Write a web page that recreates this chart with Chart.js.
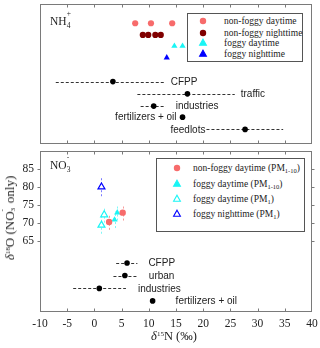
<!DOCTYPE html>
<html>
<head>
<meta charset="utf-8">
<script src="https://cdn.jsdelivr.net/npm/chart.js@4/dist/chart.umd.min.js"></script>
<style>
    body { margin: 0; background: #fff; }
    #wrap { position: relative; width: 320px; height: 348px; overflow: hidden; font-family: 'Liberation Serif', 'Times New Roman', serif; color: #222; }
    canvas { position: absolute; left: 0; }
    #topChart { top: 0; }
    #botChart { top: 146px; }
    .legend { position: absolute; background: #fff; border: 1px solid #555; z-index: 2; }
    .legend .row { position: absolute; left: 0; height: 12px; line-height: 12px; font-size: 9.5px; white-space: nowrap; }
    .legend svg { position: absolute; top: 0; }
    .legend span.txt { position: absolute; }
    sub { font-size: 6.5px; vertical-align: -2px; line-height: 0; }
    sup { font-size: 7px; vertical-align: 4px; line-height: 0; }
    .stack { display: inline-block; position: relative; width: 6px; height: 10px; }
    .stack .up { position: absolute; left: 0; top: -6px; font-size: 7.5px; }
    .stack .dn { position: absolute; left: 0; top: 6px; font-size: 7.5px; }
    .panel-label { position: absolute; font-size: 11.5px; z-index: 2; }
    .ytitle { position: absolute; left: 10px; top: 218px; transform: translate(-50%, -50%) rotate(-90deg); font-size: 13px; white-space: nowrap; }
    .xtitle { position: absolute; left: 174px; top: 336px; transform: translate(-50%, -50%); font-size: 12.5px; white-space: nowrap; }
</style>
</head>
<body>
<div id="wrap">
    <canvas id="topChart" width="320" height="148"></canvas>
    <canvas id="botChart" width="320" height="202"></canvas>

    <div class="panel-label" style="left:50px; top:15px;">NH<span class="stack"><span class="up">+</span><span class="dn">4</span></span></div>
    <div class="panel-label" style="left:50px; top:159px;">NO<span class="stack"><span class="up">-</span><span class="dn">3</span></span></div>

    <div class="legend" id="legTop" style="left:187px; top:13px; width:114px; height:47px;"></div>
    <div class="legend" id="legBot" style="left:156px; top:158px; width:147px; height:72px;"></div>

    <div class="ytitle"><i>δ</i><sup>18</sup>O (NO<span class="stack" style="width:5px"><span class="up" style="font-size:7px">-</span><span class="dn" style="font-size:7px; top:5px">3</span></span> only)</div>
    <div class="xtitle"><i>δ</i><sup>15</sup>N (‰)</div>
</div>
<script>
// x axis: delta15N (permil)
const xMin = -10, xMax = 40, xStep = 5;

// ---- NH4+ panel (rows on an arbitrary vertical scale) ----
const nh4NonFoggyDayX = [7.5, 10.4, 14.3];
const nh4NonFoggyDayY = [10.35, 10.35, 10.35];
const nh4NonFoggyNightX = [8.9, 9.9, 11.2, 12.2];
const nh4NonFoggyNightY = [9.35, 9.35, 9.35, 9.35];
const nh4FoggyDayX = [14.7, 16.2];
const nh4FoggyDayY = [8.4, 8.4];
const nh4FoggyNightX = [13.3];
const nh4FoggyNightY = [7.4];

const nh4Sources = ['CFPP', 'traffic', 'industries', 'fertilizers + oil', 'feedlots'];
const nh4SourceX = [3.4, 17.1, 10.9, 16.2, 27.7];
const nh4SourceY = [5.35, 4.3, 3.25, 2.3, 1.25];
const nh4SourceLo = [-7.1, 7.9, 8.5, null, 20.6];
const nh4SourceHi = [13.1, 25.8, 13.1, null, 34.7];

// ---- NO3- panel: delta18O vs delta15N ----
const no3Ticks = [65, 70, 75, 80, 85];
const no3NonFoggyDayX = [2.7, 5.2];
const no3NonFoggyDayY = [70.2, 72.8];
const no3NonFoggyDayErr = [2.2, 2.2];
const no3FoggyDayPM10X = [3.7, 4.2];
const no3FoggyDayPM10Y = [70.8, 72.8];
const no3FoggyDayPM10Err = [2.3, 2.2];
const no3FoggyDayPM1X = [1.3, 1.8];
const no3FoggyDayPM1Y = [69.3, 72.2];
const no3FoggyDayPM1Err = [2.4, 2.2];
const no3FoggyNightPM1X = [1.3];
const no3FoggyNightPM1Y = [80.0];
const no3FoggyNightPM1Err = [2.6];

const no3Sources = ['CFPP', 'urban', 'industries', 'fertilizers + oil'];
const no3SourceX = [6.0, 5.6, 0.9, 10.7];
const no3SourceY = [58.7, 55.2, 51.6, 48.1];
const no3SourceLo = [4.0, 3.5, -3.9, null];
const no3SourceHi = [7.9, 7.8, 5.8, null];

// label placement (which side of the bar, gap in px)
const nh4LabelPlace = [['right', 5], ['right', 6], ['right', 10], ['left', 6], ['left', 1]];
const no3LabelPlace = [['right', 11], ['right', 12], ['right', 12], ['right', 23]];

const RED = '#f76b6b', DARKRED = '#800000', CYAN = '#19f5f5', BLUE = '#0000ff';

Chart.defaults.font.family = "'Liberation Serif', 'Times New Roman', serif";
Chart.defaults.color = '#222';

const pts = (xs, ys) => xs.map((x, i) => ({ x: x, y: ys[i] }));

// error bars drawn through the chart's scales
const errorBars = {
    id: 'errorBars',
    beforeDatasetsDraw(chart) {
        const { ctx, scales: { x, y } } = chart;
        chart.data.datasets.forEach(ds => {
            if (!ds.errLo && !ds.errY) return;
            ctx.save();
            ctx.strokeStyle = ds.errColor || '#333';
            ctx.lineWidth = 1;
            ctx.setLineDash(ds.errDash || [3, 2]);
            ds.data.forEach((p, i) => {
                ctx.beginPath();
                if (ds.errLo) {
                    if (ds.errLo[i] == null) return;
                    const py = Math.round(y.getPixelForValue(p.y)) + 0.5;
                    ctx.moveTo(x.getPixelForValue(ds.errLo[i]), py);
                    ctx.lineTo(x.getPixelForValue(ds.errHi[i]), py);
                } else {
                    const px = Math.round(x.getPixelForValue(p.x)) + 0.5;
                    ctx.moveTo(px, y.getPixelForValue(p.y - ds.errY[i]));
                    ctx.lineTo(px, y.getPixelForValue(p.y + ds.errY[i]));
                }
                ctx.stroke();
            });
            ctx.restore();
        });
    }
};

// source names next to the black dots
const sourceLabels = {
    id: 'sourceLabels',
    afterDatasetsDraw(chart) {
        const { ctx, scales: { x, y } } = chart;
        chart.data.datasets.forEach(ds => {
            if (!ds.names) return;
            ctx.save();
            ctx.font = "10px 'Liberation Sans', Arial, sans-serif";
            ctx.fillStyle = '#222';
            ctx.textBaseline = 'middle';
            ds.data.forEach((p, i) => {
                const [side, gap] = ds.place[i];
                const py = y.getPixelForValue(p.y) + 0.5;
                if (side === 'right') {
                    const edge = ds.errHi[i] != null ? ds.errHi[i] : p.x;
                    ctx.textAlign = 'left';
                    ctx.fillText(ds.names[i], x.getPixelForValue(edge) + gap, py);
                } else {
                    const edge = ds.errLo[i] != null ? ds.errLo[i] : p.x;
                    ctx.textAlign = 'right';
                    ctx.fillText(ds.names[i], x.getPixelForValue(edge) - gap, py);
                }
            });
            ctx.restore();
        });
    }
};

// box frame with short tick marks
const frame = {
    id: 'frame',
    afterDraw(chart) {
        const { ctx, chartArea: a, scales: { x, y } } = chart;
        ctx.save();
        ctx.strokeStyle = '#7a7a7a';
        ctx.lineWidth = 1;
        ctx.setLineDash([]);
        const L = Math.round(a.left) + 0.5, R = Math.round(a.right) - 0.5;
        const T = Math.round(a.top) + 0.5, B = Math.round(a.bottom) - 0.5;
        ctx.strokeRect(L, T, R - L, B - T);
        ctx.beginPath();
        for (let v = xMin + xStep; v < xMax; v += xStep) {
            const px = Math.round(x.getPixelForValue(v)) + 0.5;
            ctx.moveTo(px, T); ctx.lineTo(px, T + 3);
            ctx.moveTo(px, B); ctx.lineTo(px, B - 3);
        }
        if (chart.options.plugins.frame && chart.options.plugins.frame.yTicks) {
            chart.options.plugins.frame.yTicks.forEach(v => {
                const py = Math.round(y.getPixelForValue(v)) + 0.5;
                ctx.moveTo(L, py); ctx.lineTo(L - 3, py);
                ctx.moveTo(R, py); ctx.lineTo(R + 3, py);
            });
        }
        ctx.stroke();
        ctx.restore();
    }
};

new Chart(document.getElementById('topChart'), {
    type: 'scatter',
    data: {
        datasets: [
            { label: 'non-foggy daytime', data: pts(nh4NonFoggyDayX, nh4NonFoggyDayY), pointStyle: 'circle', pointRadius: 3.1, backgroundColor: RED, borderColor: RED, borderWidth: 0 },
            { label: 'non-foggy nighttime', data: pts(nh4NonFoggyNightX, nh4NonFoggyNightY), pointStyle: 'circle', pointRadius: 3.1, backgroundColor: DARKRED, borderColor: DARKRED, borderWidth: 0 },
            { label: 'foggy daytime', data: pts(nh4FoggyDayX, nh4FoggyDayY), pointStyle: 'triangle', pointRadius: 3.6, backgroundColor: CYAN, borderColor: CYAN, borderWidth: 0 },
            { label: 'foggy nighttime', data: pts(nh4FoggyNightX, nh4FoggyNightY), pointStyle: 'triangle', pointRadius: 3.6, backgroundColor: BLUE, borderColor: BLUE, borderWidth: 0 },
            { label: 'sources', data: pts(nh4SourceX, nh4SourceY), pointStyle: 'circle', pointRadius: 2.8, backgroundColor: '#000', borderWidth: 0,
              errLo: nh4SourceLo, errHi: nh4SourceHi, errColor: '#333', errDash: [3, 2], names: nh4Sources, place: nh4LabelPlace }
        ]
    },
    options: {
        responsive: false, animation: false,
        layout: { padding: { left: 40, right: 8, top: 3, bottom: 3 } },
        plugins: { legend: { display: false }, tooltip: { enabled: false } },
        scales: {
            x: { type: 'linear', min: xMin, max: xMax, display: false },
            y: { type: 'linear', min: 0, max: 12, display: false }
        }
    },
    plugins: [errorBars, sourceLabels, frame]
});

new Chart(document.getElementById('botChart'), {
    type: 'scatter',
    data: {
        datasets: [
            { label: 'non-foggy daytime (PM1-10)', data: pts(no3NonFoggyDayX, no3NonFoggyDayY), pointStyle: 'circle', pointRadius: 3.2, backgroundColor: RED, borderWidth: 0,
              errY: no3NonFoggyDayErr, errColor: '#f79a9a', errDash: [2, 2] },
            { label: 'foggy daytime (PM1-10)', data: pts(no3FoggyDayPM10X, no3FoggyDayPM10Y), pointStyle: 'triangle', pointRadius: 3.6, backgroundColor: CYAN, borderWidth: 0,
              errY: no3FoggyDayPM10Err, errColor: '#7ff7f7', errDash: [2, 2] },
            { label: 'foggy daytime (PM1)', data: pts(no3FoggyDayPM1X, no3FoggyDayPM1Y), pointStyle: 'triangle', pointRadius: 4, backgroundColor: '#fff', borderColor: CYAN, borderWidth: 1.2,
              errY: no3FoggyDayPM1Err, errColor: '#7ff7f7', errDash: [2, 2] },
            { label: 'foggy nighttime (PM1)', data: pts(no3FoggyNightPM1X, no3FoggyNightPM1Y), pointStyle: 'triangle', pointRadius: 4, backgroundColor: '#fff', borderColor: BLUE, borderWidth: 1.2,
              errY: no3FoggyNightPM1Err, errColor: '#7a7aff', errDash: [2, 2] },
            { label: 'sources', data: pts(no3SourceX, no3SourceY), pointStyle: 'circle', pointRadius: 2.8, backgroundColor: '#000', borderWidth: 0,
              errLo: no3SourceLo, errHi: no3SourceHi, errColor: '#333', errDash: [3, 2], names: no3Sources, place: no3LabelPlace }
        ]
    },
    options: {
        responsive: false, animation: false,
        layout: { padding: { left: 0, right: 8, top: 3, bottom: 0 } },
        plugins: { legend: { display: false }, tooltip: { enabled: false }, frame: { yTicks: no3Ticks } },
        scales: {
            x: {
                type: 'linear', min: xMin, max: xMax,
                grid: { display: false, drawTicks: false }, border: { display: false },
                ticks: { stepSize: xStep, padding: 5, font: { size: 11.5 }, maxRotation: 0 },
                afterFit: s => { s.height = 36; s.paddingLeft = 0; s.paddingRight = 0; }
            },
            y: {
                type: 'linear', min: 45, max: 90,
                grid: { display: false, drawTicks: false }, border: { display: false },
                afterBuildTicks: s => { s.ticks = no3Ticks.map(v => ({ value: v })); },
                ticks: { padding: 6, font: { size: 11.5 } },
                afterFit: s => { s.width = 40; s.paddingTop = 0; s.paddingBottom = 0; }
            }
        }
    },
    plugins: [errorBars, sourceLabels, frame]
});

// legends (boxes inside the panels)
function marker(shape, fill, stroke) {
    if (shape === 'circle')
        return `<svg width="10" height="12" style="left:-5px"><circle cx="5" cy="6" r="3.2" fill="${fill}"/></svg>`;
    return `<svg width="10" height="12" style="left:-5px"><polygon points="5,2.2 8.4,8.2 1.6,8.2" fill="${fill}" stroke="${stroke}" stroke-width="1.1"/></svg>`;
}
function buildLegend(el, items, markX, textX, rowYs) {
    el.innerHTML = items.map((it, i) =>
        `<div class="row" style="top:${rowYs[i] - 6}px">` +
        `<span style="position:absolute; left:${markX}px; top:0">${marker(it[1], it[2], it[3])}</span>` +
        `<span class="txt" style="left:${textX}px">${it[0]}</span></div>`).join('');
}
buildLegend(document.getElementById('legTop'), [
    ['non-foggy daytime', 'circle', RED, RED],
    ['non-foggy nighttime', 'circle', DARKRED, DARKRED],
    ['foggy daytime', 'triangle', CYAN, CYAN],
    ['foggy nighttime', 'triangle', BLUE, BLUE]
], 15, 36, [7, 18.6, 29.2, 39.8]);
buildLegend(document.getElementById('legBot'), [
    ['non-foggy daytime (PM<sub>1-10</sub>)', 'circle', RED, RED],
    ['foggy daytime (PM<sub>1-10</sub>)', 'triangle', CYAN, CYAN],
    ['foggy daytime (PM<sub>1</sub>)', 'triangle', '#fff', CYAN],
    ['foggy nighttime (PM<sub>1</sub>)', 'triangle', '#fff', BLUE]
], 20, 36, [8.5, 24.5, 39.5, 54.5]);
</script>
</body>
</html>
